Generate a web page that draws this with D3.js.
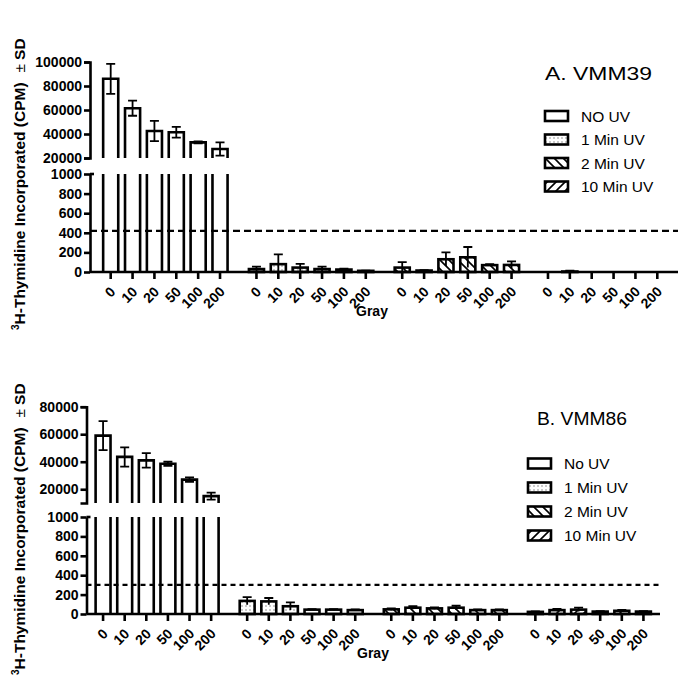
<!DOCTYPE html>
<html><head><meta charset="utf-8">
<script src="https://cdn.jsdelivr.net/npm/d3@7"></script>
<style>body{margin:0;background:#fff} text{font-family:"Liberation Sans",Arial,sans-serif}</style>
</head><body>
<svg id="c" width="685" height="680"></svg>
<script>
// ---------- data ----------
const doses = ["0", "10", "20", "50", "100", "200"];
const treatmentsA = ["NO UV", "1 Min UV", "2 Min UV", "10 Min UV"];
const treatmentsB = ["No UV", "1 Min UV", "2 Min UV", "10 Min UV"];
const vmm39Mean = [
  [86000, 61500, 42500, 41500, 33000, 27500],
  [30, 80, 45, 30, 25, 12],
  [45, 15, 130, 150, 70, 72],
  [0, 5, 0, 0, 0, 0]
];
const vmm39SD = [
  [12500, 6300, 8500, 4500, 800, 5500],
  [25, 100, 38, 25, 8, 3],
  [55, 5, 70, 105, 10, 37],
  [0, 10, 0, 0, 0, 0]
];
const vmm86Mean = [
  [59000, 43500, 41000, 38500, 27000, 15000],
  [135, 130, 80, 45, 45, 40],
  [48, 65, 58, 65, 40, 40],
  [22, 40, 45, 25, 33, 25]
];
const vmm86SD = [
  [10500, 7000, 5300, 1500, 1600, 2500],
  [40, 35, 40, 5, 5, 8],
  [10, 15, 10, 20, 8, 8],
  [5, 12, 20, 5, 10, 5]
];
const lowTicks = [0, 200, 400, 600, 800, 1000];
const upTicksA = [20000, 40000, 60000, 80000, 100000];
const upTicksB = [20000, 40000, 60000, 80000];
const thresholdA = 420;
const thresholdB = 300;
// ---------- drawing ----------
const svg = d3.select("#c");
const defs = svg.append("defs");
const fills = ["#fff", "url(#dots)", "url(#back)", "url(#fwd)"];
{
  const p1 = defs.append("pattern").attr("id", "dots").attr("patternUnits", "userSpaceOnUse")
    .attr("width", 4).attr("height", 4);
  p1.append("rect").attr("width", 4).attr("height", 4).attr("fill", "#fff");
  p1.append("circle").attr("cx", 2).attr("cy", 2).attr("r", 0.8).attr("fill", "#888");
  const p2 = defs.append("pattern").attr("id", "back").attr("patternUnits", "userSpaceOnUse")
    .attr("width", 9).attr("height", 9);
  p2.append("rect").attr("width", 9).attr("height", 9).attr("fill", "#fff");
  p2.append("path").attr("d", "M-1,-1L10,10M-1,8L1,10M8,-1L10,1").attr("stroke", "#000").attr("stroke-width", 1.6);
  const p3 = defs.append("pattern").attr("id", "fwd").attr("patternUnits", "userSpaceOnUse")
    .attr("width", 9).attr("height", 9);
  p3.append("rect").attr("width", 9).attr("height", 9).attr("fill", "#fff");
  p3.append("path").attr("d", "M-1,10L10,-1M-1,1L1,-1M8,10L10,8").attr("stroke", "#000").attr("stroke-width", 1.6);
}

function drawPanel(cfg) {
  const g = svg.append("g");
  const groups = d3.range(4);
  const xg = d3.scaleBand().domain(groups).range([cfg.x0, cfg.x1]).paddingInner(0.1).paddingOuter(cfg.outer);
  const xd = d3.scaleBand().domain(doses).range([0, xg.bandwidth()]).paddingInner(0.31).paddingOuter(0.155);
  const yLow = d3.scaleLinear().domain([0, 1000]).range([cfg.base, cfg.lowTop]);
  const yUp = d3.scaleLinear().domain(cfg.upDomain).range([cfg.upBot, cfg.upTop]);
  const w = xd.bandwidth();

  // bars
  groups.forEach(t => {
    doses.forEach((d, i) => {
      const v = cfg.mean[t][i], sd = cfg.sd[t][i];
      const x = xg(t) + xd(d);
      if (v <= 1000) {
        g.append("rect").attr("x", x).attr("y", yLow(v)).attr("width", w).attr("height", cfg.base - yLow(v))
          .attr("fill", fills[t]).attr("stroke", "#000").attr("stroke-width", 2.6);
      } else {
        g.append("rect").attr("x", x).attr("y", yLow(1000)).attr("width", w).attr("height", cfg.base - yLow(1000))
          .attr("fill", fills[t]);
        g.append("path").attr("d", `M${x},${cfg.base}V${yLow(1000)}M${x + w},${cfg.base}V${yLow(1000)}`)
          .attr("stroke", "#000").attr("stroke-width", 2.6).attr("fill", "none");
        g.append("path").attr("d", `M${x},${cfg.upBot}V${yUp(v)}H${x + w}V${cfg.upBot}`)
          .attr("stroke", "#000").attr("stroke-width", 2.6).attr("fill", fills[t]);
      }
      if (sd > 0) {
        const ys = v > 1000 ? yUp : yLow;
        const cx = x + w / 2, c = 4.5;
        const lo = Math.max(v - sd, 0), hi = v + sd;
        g.append("path").attr("d", `M${cx},${ys(lo)}V${ys(hi)}M${cx - c},${ys(hi)}H${cx + c}` + (v > 1000 ? `M${cx - c},${ys(lo)}H${cx + c}` : ""))
          .attr("stroke", "#000").attr("stroke-width", 1.8).attr("fill", "none");
      }
    });
    // x ticks per group
    const ax = g.append("g").attr("transform", `translate(${xg(t)},${cfg.base})`)
      .call(d3.axisBottom(xd).tickSize(7).tickSizeOuter(0));
    ax.select(".domain").remove();
    ax.selectAll(".tick line").attr("stroke", "#000").attr("stroke-width", 2.6);
    ax.selectAll(".tick text").attr("font-size", 14).attr("font-weight", "bold").attr("fill", "#000")
      .attr("font-family", "Liberation Sans, Arial, sans-serif")
      .attr("text-anchor", "end").attr("dy", null).attr("y", null)
      .attr("transform", "translate(3,18) rotate(-45)").attr("dominant-baseline", "middle");
  });

  // threshold dashed line
  g.append("line").attr("x1", cfg.x0).attr("x2", cfg.x1).attr("y1", yLow(cfg.threshold)).attr("y2", yLow(cfg.threshold))
    .attr("stroke", "#000").attr("stroke-width", 2.4).attr("stroke-dasharray", cfg.dash);

  // x axis line
  g.append("line").attr("x1", cfg.x0).attr("x2", cfg.x1).attr("y1", cfg.base).attr("y2", cfg.base)
    .attr("stroke", "#000").attr("stroke-width", 2.6);

  // y axes (broken)
  const styleAxis = a => {
    a.select(".domain").attr("stroke", "#000").attr("stroke-width", 2.6);
    a.selectAll(".tick line").attr("stroke", "#000").attr("stroke-width", 2.6);
    a.selectAll(".tick text").attr("font-size", 14).attr("font-weight", "bold").attr("fill", "#000")
      .attr("font-family", "Liberation Sans, Arial, sans-serif");
  };
  const la = g.append("g").attr("transform", `translate(${cfg.x0},0)`)
    .call(d3.axisLeft(yLow).tickValues(lowTicks).tickFormat(d3.format("d")).tickSize(6).tickSizeOuter(0).tickPadding(2));
  styleAxis(la);
  g.append("line").attr("x1", cfg.x0).attr("x2", cfg.x0 + 4).attr("y1", yLow(1000)).attr("y2", yLow(1000))
    .attr("stroke", "#000").attr("stroke-width", 2.6);
  const ua = g.append("g").attr("transform", `translate(${cfg.x0},0)`)
    .call(d3.axisLeft(yUp).tickValues(cfg.upTicks).tickFormat(d3.format("d")).tickSize(6).tickSizeOuter(6).tickPadding(2));
  styleAxis(ua);

  // x title
  g.append("text").attr("x", cfg.grayX).attr("y", cfg.grayY).attr("text-anchor", "middle")
    .attr("font-size", 14).attr("font-weight", "bold").text("Gray");

  // y title
  const yt = g.append("text").attr("transform", `translate(25,${cfg.ytY}) rotate(-90)`)
    .attr("font-size", 15.5).attr("font-weight", "bold");
  yt.append("tspan").attr("font-size", 10).attr("dy", -6).text("3");
  yt.append("tspan").attr("dy", 6).text("H-Thymidine Incorporated (CPM)");
  yt.append("tspan").attr("dx", 10).attr("font-weight", "normal").text("±");
  yt.append("tspan").attr("dx", 4).text("SD");

  // title & legend
  g.append("text").attr("x", cfg.titleX).attr("y", cfg.titleY).attr("font-size", 18)
    .attr("textLength", cfg.titleLen).attr("lengthAdjust", "spacingAndGlyphs").text(cfg.title);
  cfg.treatments.forEach((name, t) => {
    const yy = cfg.legY + t * cfg.legStep;
    g.append("rect").attr("x", cfg.legX).attr("y", yy - 5).attr("width", 23).attr("height", 10)
      .attr("fill", fills[t]).attr("stroke", "#000").attr("stroke-width", 2.6);
    g.append("text").attr("x", cfg.legX + 36).attr("y", yy).attr("dominant-baseline", "central")
      .attr("font-size", 15.5).text(name);
  });
}

drawPanel({
  x0: 90, x1: 678, outer: 0.067, base: 272, lowTop: 174, upBot: 158, upTop: 62,
  upDomain: [20000, 100000], upTicks: upTicksA, mean: vmm39Mean, sd: vmm39SD,
  threshold: thresholdA, dash: "7,4", grayX: 372, grayY: 316, ytY: 330,
  title: "A. VMM39", titleX: 545, titleY: 80, titleLen: 107, treatments: treatmentsA,
  legX: 545, legY: 116, legStep: 23.5
});
drawPanel({
  x0: 86.5, x1: 660, outer: 0.04, base: 614, lowTop: 517, upBot: 503, upTop: 406.7,
  upDomain: [10000, 80000], upTicks: upTicksB, mean: vmm86Mean, sd: vmm86SD,
  threshold: thresholdB, dash: "5,4", grayX: 373, grayY: 658, ytY: 675,
  title: "B. VMM86", titleX: 537, titleY: 425, titleLen: 90, treatments: treatmentsB,
  legX: 528, legY: 463.5, legStep: 24
});
</script>
</body></html>
